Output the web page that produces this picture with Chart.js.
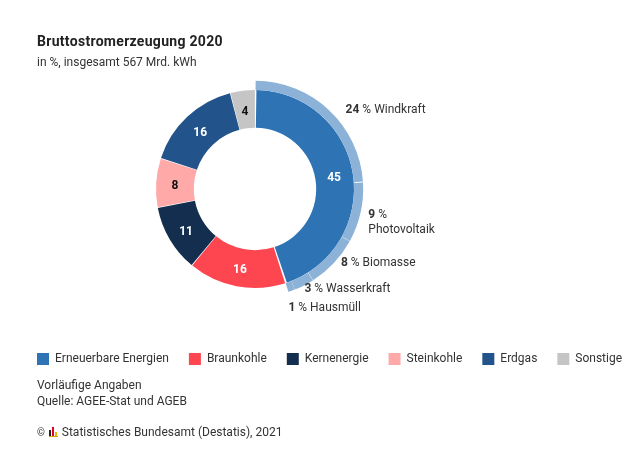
<!DOCTYPE html>
<html><head><meta charset="utf-8">
<script src="https://cdn.jsdelivr.net/npm/chart.js@4.4.1/dist/chart.umd.min.js"></script>
<style>
html,body{margin:0;padding:0;width:640px;height:453px;overflow:hidden;background:#fff;font-family:Roboto,"Noto Sans",sans-serif;color:#333;}
#wrap{position:absolute;left:0;top:0;width:760px;height:453px;}
.t{position:absolute;left:37px;white-space:nowrap;}
.logo{display:inline-block;position:relative;width:9px;height:9px;vertical-align:-1px;margin:0 1px 0 1px;border-bottom:1px solid #d9a400;}
.logo i{position:absolute;bottom:0;width:2px;}
</style></head><body>
<div id="wrap"><canvas id="c" width="760" height="453"></canvas></div>
<div class="t" style="top:33px;font-size:14px;font-weight:bold;line-height:17px;color:#222;letter-spacing:0.3px">Bruttostromerzeugung 2020</div>
<div class="t" style="top:55px;font-size:12px;line-height:15px">in %, insgesamt 567 Mrd. kWh</div>
<div class="t" style="top:378px;font-size:12px;line-height:15.5px">Vorläufige Angaben<br>Quelle: AGEE-Stat und AGEB</div>
<div class="t" style="top:425px;font-size:12px;line-height:15px"><span style="font-size:10px">©</span> <span class="logo"><i style="left:0;height:6px;background:#222"></i><i style="left:3px;height:9px;background:#e2001a"></i><i style="left:6px;height:4px;background:#f0b400"></i></span> Statistisches Bundesamt (Destatis), 2021</div>
<script>
const categories = ['Erneuerbare Energien', 'Braunkohle', 'Kernenergie', 'Steinkohle', 'Erdgas', 'Sonstige'];
const shares = [45, 16, 11, 8, 16, 4];
const renewableSources = ['Windkraft', 'Photovoltaik', 'Biomasse', 'Wasserkraft', 'Hausmüll'];
const renewableShares = [24, 9, 8, 3, 1];

const mainColors = ['#2e74b5', '#fe4650', '#142e4f', '#ffa9a9', '#22548b', '#c5c5c5'];
const mainLabelColors = ['#fff', '#fff', '#fff', '#111', '#fff', '#111'];
const subColor = '#8cb2d8';

const total = shares.reduce((a, b) => a + b, 0);
const subRest = total - renewableShares.reduce((a, b) => a + b, 0);

const placeDonut = {
  id: 'placeDonut',
  afterLayout(chart) {
    const cx = 255, cy = 189, s = 240;
    chart.chartArea = {left: cx - s / 2, right: cx + s / 2, top: cy - s / 2, bottom: cy + s / 2, width: s, height: s};
  }
};

// label nudges: [dx, dy] from arc outer mid point
const subLabelNudge = [[16, 0], [7, 2], [6.5, -1], [0, 3], [-3.5, 16.7]];

const labelsPlugin = {
  id: 'labelsPlugin',
  afterDatasetsDraw(chart) {
    const ctx = chart.ctx;
    ctx.save();
    ctx.textBaseline = 'middle';
    ctx.textAlign = 'center';
    ctx.font = 'bold 12px Roboto';
    const main = chart.getDatasetMeta(1);
    main.data.forEach((arc, i) => {
      const p = arc.tooltipPosition();
      ctx.fillStyle = mainLabelColors[i];
      ctx.fillText(String(shares[i]), p.x, p.y + 2);
    });
    const sub = chart.getDatasetMeta(0);
    ctx.textAlign = 'left';
    ctx.fillStyle = '#333';
    renewableSources.forEach((name, i) => {
      const arc = sub.data[i];
      const pr = arc.getProps(['x', 'y', 'startAngle', 'endAngle', 'outerRadius'], true);
      const mid = (pr.startAngle + pr.endAngle) / 2;
      const r = 109;
      const x = pr.x + Math.cos(mid) * r + subLabelNudge[i][0];
      const y = pr.y + Math.sin(mid) * r + subLabelNudge[i][1];
      ctx.font = 'bold 12px Roboto';
      const num = String(renewableShares[i]);
      ctx.fillText(num, x, y);
      let w = ctx.measureText(num).width;
      ctx.font = '12px Roboto';
      if (name === 'Photovoltaik') {
        ctx.fillText(' %', x + w, y);
        ctx.fillText(name, x, y + 15.7);
      } else {
        ctx.fillText(' % ' + name, x + w, y);
      }
    });
    ctx.restore();
  }
};

new Chart(document.getElementById('c'), {
  type: 'doughnut',
  data: {
    labels: categories,
    datasets: [
      {
        label: 'Erneuerbare Energien',
        data: [...renewableShares, subRest],
        backgroundColor: [...renewableShares.map(() => subColor), 'rgba(0,0,0,0)'],
        borderWidth: 0,
        spacing: 1.6,
        weight: 9
      },
      {
        label: 'Bruttostromerzeugung',
        data: shares,
        backgroundColor: mainColors,
        borderWidth: 0,
        spacing: 1.6,
        weight: 37
      }
    ]
  },
  options: {
    responsive: false,
    animation: false,
    radius: 107.4,
    cutout: (60.4 / 107.4 * 100) + '%',
    layout: {padding: {left: 17, right: 0, top: 0, bottom: 78}},
    plugins: {
      tooltip: {enabled: false},
      legend: {
        position: 'bottom',
        align: 'start',
        labels: {
          boxWidth: 12,
          boxHeight: 12,
          padding: 20,
          color: '#333',
          font: {family: 'Roboto', size: 12},
          generateLabels: () => categories.map((c, i) => ({
            text: c, fillStyle: mainColors[i], strokeStyle: mainColors[i], lineWidth: 0, hidden: false, index: i, fontColor: '#333'
          }))
        }
      }
    }
  },
  plugins: [placeDonut, labelsPlugin]
});
</script>
</body></html>
